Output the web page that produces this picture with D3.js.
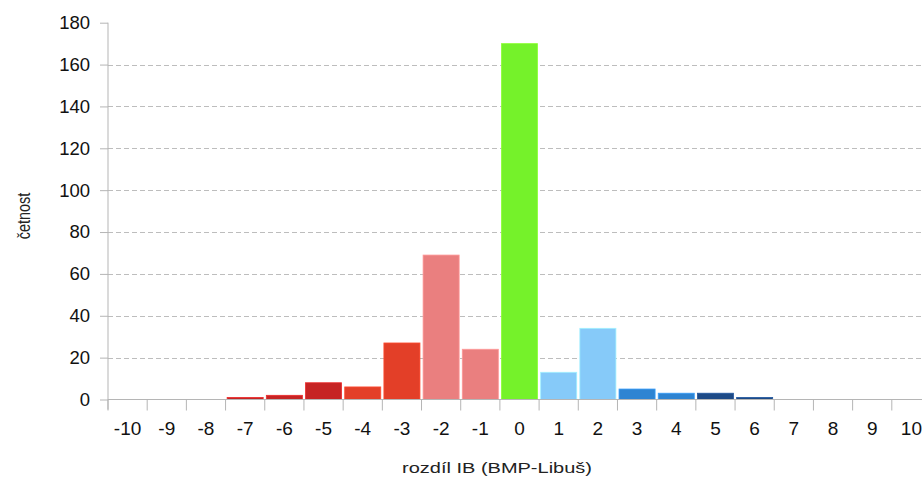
<!DOCTYPE html>
<html><head><meta charset="utf-8">
<script src="https://cdn.jsdelivr.net/npm/d3@7"></script>
<style>body{margin:0;background:#fff;overflow:hidden}svg{display:block}</style>
</head><body>
<script>
const categories = ["-10","-9","-8","-7","-6","-5","-4","-3","-2","-1","0","1","2","3","4","5","6","7","8","9","10"];
const values = [0,0,0,1,2,8,6,27,69,24,170,13,34,5,3,3,1,0,0,0,0];
const colors = ["#c62424","#c62424","#c62424","#c62424","#c62424","#c62424","#e33f28","#e33f28","#ea7f7f","#ea7f7f","#75f22a","#86caf9","#86caf9","#2e84d2","#2e84d2","#1d4a86","#1d4a86","#1d4a86","#1d4a86","#1d4a86","#1d4a86"];
const yTicks = [0,20,40,60,80,100,120,140,160,180];
const xTitle = "rozdíl IB (BMP-Libuš)";
const yTitle = "četnost";

(function(){
const W = 922, H = 478;
const svg = d3.select("body").append("svg").attr("width", W).attr("height", H);
const pL = 108, pR = 931, pT = 22.7, pB = 399.5;
const x = d3.scaleBand().domain(categories).range([pL, pR]).paddingInner(0.08).paddingOuter(0.04);
const y = d3.scaleLinear().domain([0, 180]).range([pB, pT]);
const font = "'Liberation Sans', Arial, Helvetica, sans-serif";

// grid
svg.append("g").selectAll("line").data(yTicks.filter(d => d > 0 && d < 180)).join("line")
  .attr("x1", pL).attr("x2", W).attr("y1", d => Math.round(y(d)) + 0.5).attr("y2", d => Math.round(y(d)) + 0.5)
  .attr("stroke", "#bdbdbd").attr("stroke-width", 1).attr("stroke-dasharray", "5,3");

// bars
svg.append("g").selectAll("rect").data(values).join("rect")
  .attr("x", (d, i) => x(categories[i]))
  .attr("width", x.bandwidth())
  .attr("y", d => y(d))
  .attr("height", d => pB - y(d))
  .attr("fill", (d, i) => colors[i])
  .attr("stroke", (d, i) => d3.color(colors[i]).brighter(0.5))
  .attr("stroke-width", 0.8)
  .attr("opacity", d => d > 0 ? 1 : 0);

// y axis
const yAxis = d3.axisLeft(y).tickValues(yTicks).tickSize(8).tickPadding(10);
const gy = svg.append("g").attr("transform", `translate(${pL},0)`).call(yAxis);
gy.selectAll("line").attr("stroke", "#b5b5b5");
gy.select(".domain").attr("stroke", "#b5b5b5").attr("d", `M0,${pT}V${pB + 10}`);
gy.selectAll("text").attr("font-family", font).attr("font-size", 18.5).attr("fill", "#111");

// x axis
const gx = svg.append("g").attr("transform", `translate(0,${pB})`);
gx.append("line").attr("x1", pL).attr("x2", W).attr("y1", 0).attr("y2", 0).attr("stroke", "#b5b5b5");
const bounds = d3.range(categories.length + 1).map(i => pL + i * (pR - pL) / categories.length);
gx.selectAll("line.t").data(bounds).join("line").attr("class", "t")
  .attr("x1", d => d).attr("x2", d => d).attr("y1", 0).attr("y2", 11).attr("stroke", "#b5b5b5");
gx.selectAll("text").data(categories).join("text")
  .attr("x", d => x(d) + x.bandwidth() / 2).attr("y", 35)
  .attr("text-anchor", "middle").attr("font-family", font).attr("font-size", 19).attr("fill", "#111")
  .text(d => d);

svg.append("text").attr("transform", "translate(497,473) scale(1.29,1)").attr("text-anchor", "middle")
  .attr("font-family", font).attr("font-size", 15.5).attr("fill", "#222").text(xTitle);
svg.append("text").attr("transform", "translate(30,216) scale(1.3,1) rotate(-90)").attr("text-anchor", "middle")
  .attr("font-family", font).attr("font-size", 14.5).attr("fill", "#222").text(yTitle);
})();
</script>
</body></html>
